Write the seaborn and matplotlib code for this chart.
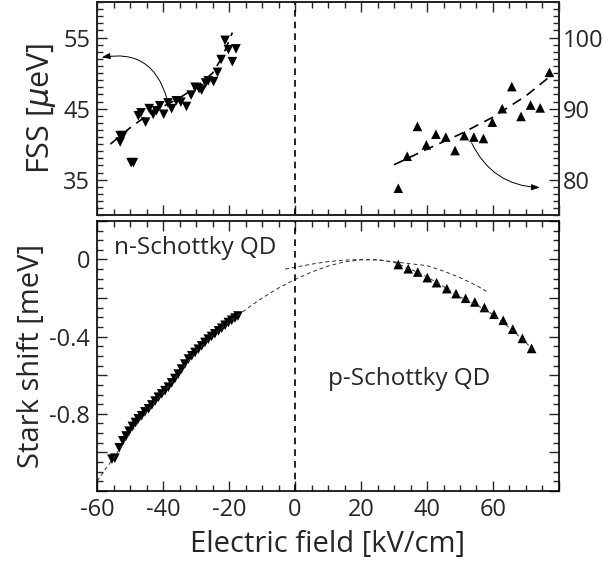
import matplotlib
matplotlib.use("Agg")
import matplotlib.pyplot as plt
from matplotlib.ticker import FixedLocator, MultipleLocator
import seaborn as sns
import pandas as pd

# --- FSS, n-Schottky QD (left axis, down triangles)
fss_n_x = [-53.0, -52.2, -53.0, -49.7, -49.0, -47.5, -46.7, -45.3, -44.2, -43.0, -42.0, -41.0,
           -39.8, -38.5, -37.4, -36.0, -34.6, -32.9, -31.5, -30.3, -29.1, -28.3, -27.1, -26.3,
           -24.7, -23.5, -22.4, -21.2, -20.2, -19.0, -17.9]
fss_n_y = [41.2, 41.2, 40.3, 37.4, 37.4, 44.0, 44.4, 43.1, 45.0, 44.2, 44.7, 45.4,
           44.2, 45.8, 45.0, 46.1, 45.9, 45.3, 46.9, 48.0, 47.8, 47.6, 48.6, 48.9,
           48.8, 50.1, 51.9, 54.6, 53.3, 51.6, 53.4]
fit_n_x = [-56, -50, -45, -40, -35, -30, -25, -22, -19]
fit_n_y = [40.0, 42.3, 44.0, 45.3, 46.5, 48.0, 50.0, 52.3, 55.7]

# --- FSS, p-Schottky QD (right axis, up triangles)
fss_p_x = [31.3, 34.0, 37.1, 39.8, 42.7, 45.7, 48.5, 51.3, 54.2, 57.1, 59.8, 62.8, 65.7,
           68.5, 71.4, 74.3, 77.1]
fss_p_y = [78.8, 83.3, 87.5, 84.9, 86.4, 86.0, 84.1, 86.2, 86.0, 85.8, 88.1, 90.0, 93.1,
           88.9, 90.5, 90.1, 95.1]
fit_p_x = [30, 40, 50, 60, 70, 78]
fit_p_y = [82.1, 84.3, 86.4, 88.8, 91.8, 94.8]

# --- Stark shift
stark_n_x = [-55.5, -54.6, -53.3, -52.2, -51.2, -50.3, -49.3, -48.4, -47.5, -46.5, -45.5,
             -44.4, -43.4, -42.4, -41.4, -40.4, -39.4, -38.4, -37.4, -36.4, -35.4, -34.4,
             -33.4, -32.3, -31.3, -30.3, -29.3, -28.3, -27.3, -26.3, -25.3, -24.3, -23.2,
             -22.2, -21.2, -20.2, -19.2, -18.2, -17.3]
stark_n_y = [-1.035, -1.03, -0.976, -0.94, -0.915, -0.89, -0.865, -0.845, -0.826, -0.81, -0.79,
             -0.774, -0.754, -0.734, -0.714, -0.697, -0.68, -0.662, -0.64, -0.617, -0.594, -0.568,
             -0.542, -0.516, -0.499, -0.482, -0.465, -0.448, -0.43, -0.413, -0.399, -0.385, -0.37,
             -0.356, -0.341, -0.327, -0.315, -0.304, -0.293]
stark_p_x = [31.3, 34.3, 37.2, 40.1, 42.9, 46.0, 48.8, 51.7, 54.5, 57.4, 60.3, 63.1, 66.0,
             68.9, 71.7]
stark_p_y = [-0.026, -0.048, -0.065, -0.094, -0.12, -0.151, -0.177, -0.201, -0.22, -0.249,
             -0.284, -0.315, -0.361, -0.409, -0.461]
curve_a_x = [-60, -57, -55, -50, -45, -40, -35, -30, -25, -20, -15, -10, -5, 0, 5, 10, 15,
             20, 25, 30, 35, 40, 45, 50, 55, 60, 65, 70, 72]
curve_a_y = [-1.15, -1.075, -1.03, -0.9, -0.79, -0.69, -0.585, -0.475, -0.395, -0.325, -0.26,
             -0.2, -0.148, -0.103, -0.065, -0.034, -0.012, -0.002, 0.0, -0.015, -0.05, -0.09,
             -0.14, -0.195, -0.235, -0.285, -0.355, -0.43, -0.47]
curve_b_x = [-3, 0, 5, 10, 15, 20, 25, 30, 35, 40, 45, 50, 55, 58]
curve_b_y = [-0.05, -0.04, -0.024, -0.011, -0.003, 0.0, -0.003, -0.012, -0.022, -0.032,
             -0.06, -0.094, -0.135, -0.165]

sns.set_style("ticks")
plt.rcParams['font.family'] = ['Open Sans', 'DejaVu Sans']
plt.rcParams['mathtext.fontset'] = 'dejavusans'

fig = plt.figure(figsize=(6.03, 5.65), dpi=100)
ax1 = fig.add_axes([0.161, 0.619, 0.766, 0.3775])
ax2 = fig.add_axes([0.161, 0.131, 0.766, 0.478])
ax1r = ax1.twinx()

tri = dict(color='black', edgecolor='none', s=48, legend=False)

def dashed(ax, x, y, lw, dash, color='black'):
    df = pd.DataFrame({'x': x, 'y': y})
    sns.lineplot(data=df, x='x', y='y', ax=ax, sort=False, estimator=None,
                 color=color, lw=lw, dashes=False).lines[-1].set_dashes(dash)

# top panel
sns.scatterplot(x=fss_n_x, y=fss_n_y, marker='v', ax=ax1, **tri)
dashed(ax1, fit_n_x, fit_n_y, 1.2, (6, 4))
sns.scatterplot(x=fss_p_x, y=fss_p_y, marker='^', ax=ax1r, **tri)
dashed(ax1r, fit_p_x, fit_p_y, 1.2, (6, 4))

ax1.annotate('', xy=(-58.6, 52.2), xytext=(-38.9, 46.5),
             arrowprops=dict(arrowstyle='-|>,head_length=0.5,head_width=0.18', lw=0.7,
                             color='black', connectionstyle='arc3,rad=0.45',
                             shrinkA=0, shrinkB=0))
ax1r.annotate('', xy=(74.2, 78.9), xytext=(53.5, 85.2),
              arrowprops=dict(arrowstyle='-|>,head_length=0.5,head_width=0.18', lw=0.7,
                              color='black', connectionstyle='arc3,rad=0.3',
                              shrinkA=0, shrinkB=0))

# bottom panel
dashed(ax2, curve_a_x, curve_a_y, 0.7, (4, 3), color='#333333')
dashed(ax2, curve_b_x, curve_b_y, 0.7, (4, 3), color='#333333')
sns.scatterplot(x=stark_n_x, y=stark_n_y, marker='v', ax=ax2, **tri)
sns.scatterplot(x=stark_p_x, y=stark_p_y, marker='^', ax=ax2, **tri)

for ax in (ax1, ax2):
    ax.axvline(0, color='black', lw=1.2, dashes=(4, 3))
    ax.set_xlim(-60, 80)
    ax.xaxis.set_major_locator(FixedLocator([-60, -40, -20, 0, 20, 40, 60, 80]))
    ax.xaxis.set_minor_locator(MultipleLocator(5))
    for s in ax.spines.values():
        s.set_linewidth(1.2)
        s.set_color('black')

ax1.set_ylim(30, 60)
ax1r.set_ylim(75, 105)
ax1.yaxis.set_major_locator(FixedLocator([35, 45, 55]))
ax1.yaxis.set_minor_locator(MultipleLocator(1))
ax1r.yaxis.set_major_locator(FixedLocator([80, 90, 100]))
ax1r.yaxis.set_minor_locator(MultipleLocator(1))
for s in ax1r.spines.values():
    s.set_linewidth(1.2)

ax2.set_ylim(-1.2, 0.2)
ax2.yaxis.set_major_locator(MultipleLocator(0.2))
ax2.yaxis.set_minor_locator(MultipleLocator(0.05))
ax2.set_yticklabels(['' if round(v, 2) not in (0.0, -0.4, -0.8) else ('0' if abs(v) < 1e-9 else f'{v:.1f}')
                     for v in ax2.get_yticks()])
ax2.set_xticklabels(['-60', '-40', '-20', '0', '20', '40', '60', ''])

for ax in (ax1, ax2):
    ax.tick_params(which='both', direction='in', top=True, right=(ax is ax2), width=1.0,
                   labelsize=17, pad=5)
    ax.tick_params(which='major', length=7)
    ax.tick_params(which='minor', length=4)
ax1.tick_params(labelbottom=False)
ax1r.tick_params(which='both', direction='in', width=1.0, labelsize=17, pad=3)
ax1r.tick_params(which='major', length=7)
ax1r.tick_params(which='minor', length=4)

ax1.set_xlabel('')
ax1.set_ylabel('FSS [$\\mu$eV]', fontsize=22, labelpad=4)
ax1r.set_ylabel('')
ax2.set_ylabel('Stark shift [meV]', fontsize=21, labelpad=2)
ax2.set_xlabel('Electric field [kV/cm]', fontsize=21, labelpad=6)

ax2.text(-55, 0.062, 'n-Schottky QD', fontsize=17.5, ha='left', va='center')
ax2.text(10, -0.62, 'p-Schottky QD', fontsize=17.5, ha='left', va='center')

fig.savefig('out.png', dpi=100)
